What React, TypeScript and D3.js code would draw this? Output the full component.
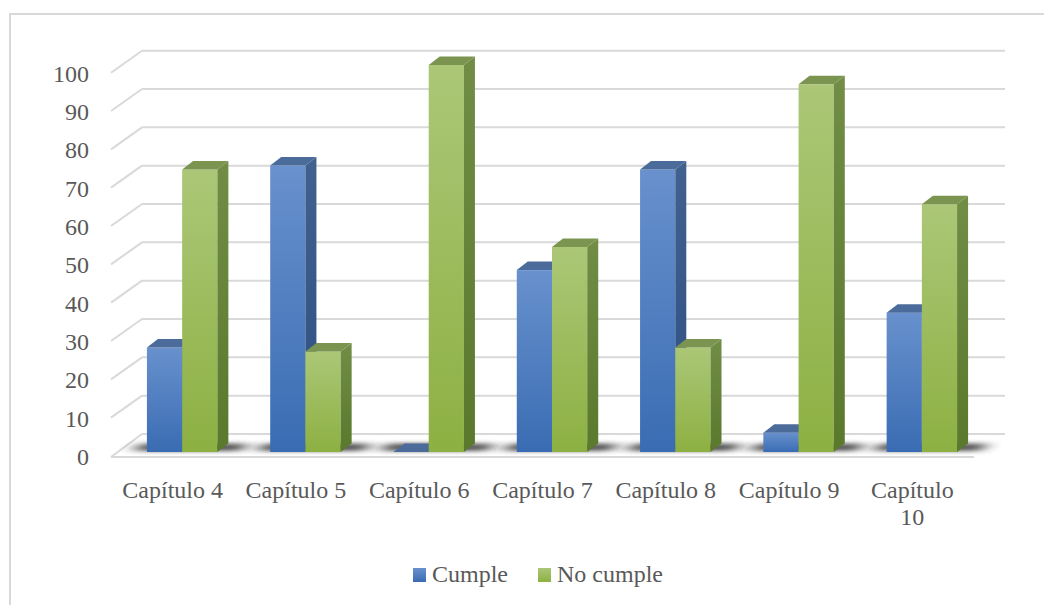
import React from "react";
import * as d3 from "d3";

// Chart data
const categories = [
  "Capítulo 4",
  "Capítulo 5",
  "Capítulo 6",
  "Capítulo 7",
  "Capítulo 8",
  "Capítulo 9",
  "Capítulo 10",
];
const seriesNames = ["Cumple", "No cumple"];
const cumple = [27, 74, 0, 47, 73, 5, 36];
const noCumple = [73, 26, 100, 53, 27, 95, 64];
const yTicks = [0, 10, 20, 30, 40, 50, 60, 70, 80, 90, 100];

const W = 1044;
const H = 605;

// Oblique 3D layout: front plane and back wall offset
const DEPTH_X = 31;
const DEPTH_Y = -22;
const FRONT_LEFT = 111;
const FRONT_RIGHT = 974;
const FRONT_FLOOR_Y = 456;
const BAR_BASE_Y = 452;
const BAR_SHIFT_X = 9.5;
const BAR_DX = 11;
const BAR_DY = -8.5;

const FONT = "'Liberation Serif', 'Times New Roman', serif";
const TEXT = "#595959";
const GRID = "#d9d9d9";

const palette = [
  { front: ["#6891cd", "#3a6cb3"], side: ["#41618f", "#2c5083"], top: "#4b6b9b" },
  { front: ["#abc777", "#8db042"], side: ["#718d46", "#5a792c"], top: "#7b9550" },
];

const yFront = d3.scaleLinear().domain([0, 100]).range([FRONT_FLOOR_Y, FRONT_FLOOR_Y - 383.3]);
const yBack = (v: number) => yFront(v) + DEPTH_Y;
const yBar = d3.scaleLinear().domain([0, 100]).range([BAR_BASE_Y, 65]);

const xBand = d3.scaleBand<string>().domain(categories).range([FRONT_LEFT, FRONT_RIGHT]).padding(0);
const xSeries = d3
  .scaleBand<string>()
  .domain(seriesNames)
  .range([0, xBand.bandwidth()])
  .paddingInner(0)
  .paddingOuter(0.75);

function splitLabel(label: string): string[] {
  if (label.length <= 10) return [label];
  const i = label.lastIndexOf(" ");
  return [label.slice(0, i), label.slice(i + 1)];
}

function Bar({ x, w, v, si }: { x: number; w: number; v: number; si: number }) {
  const yTop = yBar(v);
  const b = BAR_BASE_Y;
  const p = (pts: [number, number][]) => pts.map((q) => q.join(",")).join(" ");
  const top = p([
    [x, yTop],
    [x + w, yTop],
    [x + w + BAR_DX, yTop + BAR_DY],
    [x + BAR_DX, yTop + BAR_DY],
  ]);
  const side = p([
    [x + w, yTop],
    [x + w + BAR_DX, yTop + BAR_DY],
    [x + w + BAR_DX, b + BAR_DY],
    [x + w, b],
  ]);
  return (
    <g>
      {v > 0 && <rect x={x} y={yTop} width={w} height={b - yTop} fill={`url(#front${si})`} />}
      {v > 0 && <polygon points={side} fill={`url(#side${si})`} />}
      <polygon points={top} fill={palette[si].top} />
    </g>
  );
}

export default function App() {
  const bw = xSeries.bandwidth();
  const values = [cumple, noCumple];

  return (
    <svg
      width={W}
      height={H}
      viewBox={`0 0 ${W} ${H}`}
      style={{ position: "absolute", left: 0, top: 0, display: "block", background: "#fff" }}
    >
      <defs>
        {palette.map((c, i) => (
          <React.Fragment key={i}>
            <linearGradient id={`front${i}`} x1="0" y1="0" x2="0" y2="1">
              <stop offset="0" stopColor={c.front[0]} />
              <stop offset="1" stopColor={c.front[1]} />
            </linearGradient>
            <linearGradient id={`side${i}`} x1="0" y1="0" x2="0" y2="1">
              <stop offset="0" stopColor={c.side[0]} />
              <stop offset="1" stopColor={c.side[1]} />
            </linearGradient>
          </React.Fragment>
        ))}
        <filter id="shadowBlur" x="-30%" y="-300%" width="160%" height="700%">
          <feGaussianBlur stdDeviation="8 2.2" />
        </filter>
      </defs>

      {/* chart area border */}
      <rect x={10} y={14} width={W + 20} height={H + 20} fill="none" stroke={GRID} strokeWidth={2} />

      {/* floor */}
      <polygon
        points={[
          [FRONT_LEFT, FRONT_FLOOR_Y],
          [FRONT_RIGHT, FRONT_FLOOR_Y],
          [FRONT_RIGHT + DEPTH_X, FRONT_FLOOR_Y + DEPTH_Y],
          [FRONT_LEFT + DEPTH_X, FRONT_FLOOR_Y + DEPTH_Y],
        ]
          .map((q) => q.join(","))
          .join(" ")}
        fill="#fff"
      />
      <line x1={FRONT_LEFT} x2={FRONT_RIGHT} y1={FRONT_FLOOR_Y + 1} y2={FRONT_FLOOR_Y + 1} stroke={GRID} strokeWidth={2} />

      {/* gridlines on back wall and side wall */}
      {yTicks.map((t) => (
        <g key={t}>
          <line
            x1={FRONT_LEFT + DEPTH_X}
            x2={FRONT_RIGHT + DEPTH_X}
            y1={yBack(t)}
            y2={yBack(t)}
            stroke={GRID}
            strokeWidth={2}
          />
          <line
            x1={FRONT_LEFT}
            y1={yFront(t) + (t === 0 ? 1 : 0)}
            x2={FRONT_LEFT + DEPTH_X}
            y2={yBack(t)}
            stroke={GRID}
            strokeWidth={2}
          />
          <text
            x={89}
            y={yFront(t) + 9}
            textAnchor="end"
            fontFamily={FONT}
            fontSize={24}
            fill={TEXT}
          >
            {t}
          </text>
        </g>
      ))}

      {/* soft floor shadows under each group */}
      {categories.map((c) => {
        const L = (xBand(c) as number) + (xSeries(seriesNames[0]) as number) + BAR_SHIFT_X;
        const R = L + 2 * bw + BAR_DX;
        return (
          <polygon
            key={`sh-${c}`}
            points={[
              [L - 14, BAR_BASE_Y - 1],
              [R + 12, BAR_BASE_Y - 1],
              [R + 20, BAR_BASE_Y + BAR_DY],
              [L - 6, BAR_BASE_Y + BAR_DY],
            ]
              .map((q) => q.join(","))
              .join(" ")}
            fill="#2a2a2a"
            opacity={0.8}
            filter="url(#shadowBlur)"
          />
        );
      })}

      {/* bars */}
      {categories.map((c, ci) => (
        <g key={c}>
          {seriesNames.map((s, si) => (
            <Bar
              key={s}
              x={(xBand(c) as number) + (xSeries(s) as number) + BAR_SHIFT_X}
              w={bw}
              v={values[si][ci]}
              si={si}
            />
          ))}
        </g>
      ))}

      {/* category labels */}
      {categories.map((c) => {
        const lines = splitLabel(c);
        const cx = (xBand(c) as number) + xBand.bandwidth() / 2;
        return (
          <text key={`l-${c}`} textAnchor="middle" fontFamily={FONT} fontSize={24} fill={TEXT}>
            {lines.map((ln, i) => (
              <tspan key={i} x={cx} y={498 + i * 27}>
                {ln}
              </tspan>
            ))}
          </text>
        );
      })}

      {/* legend */}
      {seriesNames.map((s, i) => {
        const lx = [413, 538][i];
        return (
          <g key={`lg-${s}`}>
            <rect x={lx} y={568} width={13} height={14} fill={`url(#front${i})`} />
            <text x={lx + 19} y={582} fontFamily={FONT} fontSize={24} fill={TEXT}>
              {s}
            </text>
          </g>
        );
      })}
    </svg>
  );
}
